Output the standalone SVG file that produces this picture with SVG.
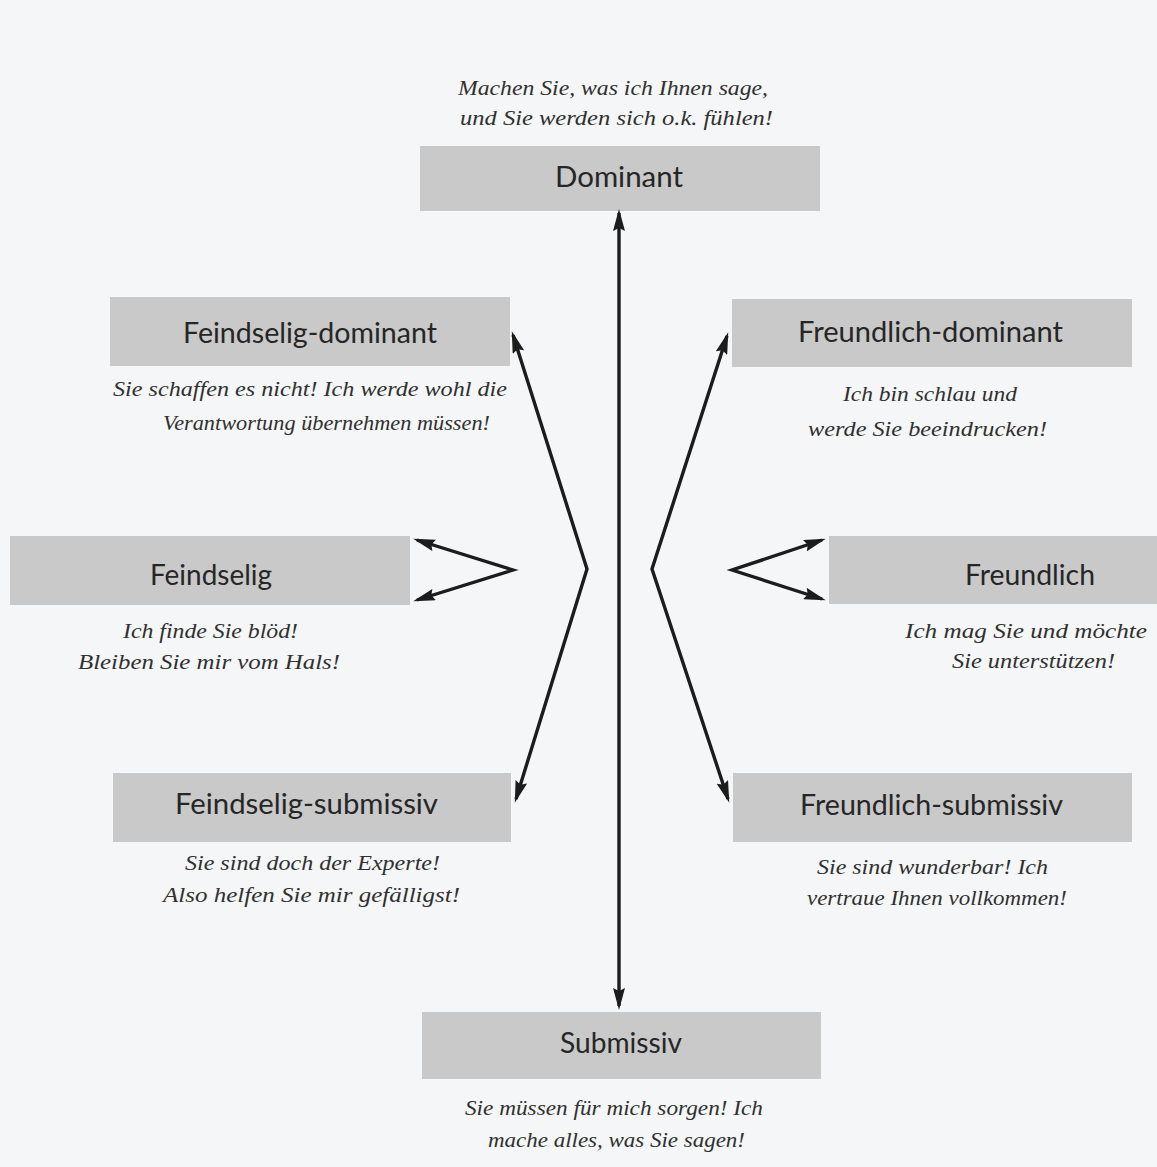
<svg xmlns="http://www.w3.org/2000/svg" width="1157" height="1167" viewBox="0 0 1157 1167">
<style>
.box{fill:#c9c9c9}
.lbl{font-family:Lato,"Liberation Sans",sans-serif;font-size:28px;fill:#262626}
.cap{font-family:"Liberation Serif",serif;font-style:italic;font-size:21px;fill:#303030}
.con{fill:none;stroke:#1c1c1c;stroke-width:3.4;stroke-linejoin:miter}
</style>
<defs>
<marker id="ah" viewBox="0 0 22 12" refX="18" refY="6" markerWidth="22" markerHeight="12" markerUnits="userSpaceOnUse" orient="auto-start-reverse">
<path d="M0,0 L22,6 L0,12 L3,6 z" fill="#1c1c1c"/>
</marker>
</defs>
<rect x="0" y="0" width="1157" height="1167" fill="#f5f6f7"/>

<g id="dominant">
<text class="cap" x="458" y="95" textLength="310" lengthAdjust="spacingAndGlyphs">Machen Sie, was ich Ihnen sage,</text>
<text class="cap" x="460" y="125" textLength="313" lengthAdjust="spacingAndGlyphs">und Sie werden sich o.k. fühlen!</text>
<rect class="box" x="420" y="146" width="400" height="65"/>
<text class="lbl" x="555" y="187" textLength="128" lengthAdjust="spacingAndGlyphs">Dominant</text>
</g>

<g id="feindselig-dominant">
<rect class="box" x="110" y="297" width="400" height="69"/>
<text class="lbl" x="183" y="343" textLength="254" lengthAdjust="spacingAndGlyphs">Feindselig-dominant</text>
<text class="cap" x="113" y="396" textLength="394" lengthAdjust="spacingAndGlyphs">Sie schaffen es nicht! Ich werde wohl die</text>
<text class="cap" x="163" y="430" textLength="327" lengthAdjust="spacingAndGlyphs">Verantwortung übernehmen müssen!</text>
</g>

<g id="freundlich-dominant">
<rect class="box" x="732" y="299" width="400" height="68"/>
<text class="lbl" x="798" y="342" textLength="265" lengthAdjust="spacingAndGlyphs">Freundlich-dominant</text>
<text class="cap" x="843" y="401" textLength="174" lengthAdjust="spacingAndGlyphs">Ich bin schlau und</text>
<text class="cap" x="808" y="436" textLength="239" lengthAdjust="spacingAndGlyphs">werde Sie beeindrucken!</text>
</g>

<g id="feindselig">
<rect class="box" x="10" y="536" width="400" height="69"/>
<text class="lbl" x="150" y="585" textLength="122" lengthAdjust="spacingAndGlyphs">Feindselig</text>
<text class="cap" x="123" y="638" textLength="175" lengthAdjust="spacingAndGlyphs">Ich finde Sie blöd!</text>
<text class="cap" x="78" y="669" textLength="262" lengthAdjust="spacingAndGlyphs">Bleiben Sie mir vom Hals!</text>
</g>

<g id="freundlich">
<rect class="box" x="829" y="536" width="400" height="68"/>
<text class="lbl" x="965" y="585" textLength="130" lengthAdjust="spacingAndGlyphs">Freundlich</text>
<text class="cap" x="905" y="638" textLength="242" lengthAdjust="spacingAndGlyphs">Ich mag Sie und möchte</text>
<text class="cap" x="952" y="668" textLength="163" lengthAdjust="spacingAndGlyphs">Sie unterstützen!</text>
</g>

<g id="feindselig-submissiv">
<rect class="box" x="113" y="773" width="398" height="69"/>
<text class="lbl" x="175" y="814" textLength="263" lengthAdjust="spacingAndGlyphs">Feindselig-submissiv</text>
<text class="cap" x="185" y="870" textLength="255" lengthAdjust="spacingAndGlyphs">Sie sind doch der Experte!</text>
<text class="cap" x="163" y="902" textLength="297" lengthAdjust="spacingAndGlyphs">Also helfen Sie mir gefälligst!</text>
</g>

<g id="freundlich-submissiv">
<rect class="box" x="733" y="773" width="399" height="69"/>
<text class="lbl" x="800" y="815" textLength="263" lengthAdjust="spacingAndGlyphs">Freundlich-submissiv</text>
<text class="cap" x="817" y="874" textLength="231" lengthAdjust="spacingAndGlyphs">Sie sind wunderbar! Ich</text>
<text class="cap" x="807" y="905" textLength="260" lengthAdjust="spacingAndGlyphs">vertraue Ihnen vollkommen!</text>
</g>

<g id="submissiv">
<rect class="box" x="422" y="1012" width="399" height="67"/>
<text class="lbl" x="560" y="1053" textLength="122" lengthAdjust="spacingAndGlyphs">Submissiv</text>
<text class="cap" x="465" y="1115" textLength="298" lengthAdjust="spacingAndGlyphs">Sie müssen für mich sorgen! Ich</text>
<text class="cap" x="488" y="1147" textLength="257" lengthAdjust="spacingAndGlyphs">mache alles, was Sie sagen!</text>
</g>

<g id="connectors">
<path class="con" d="M619,213 L619,1006" marker-start="url(#ah)" marker-end="url(#ah)"/>
<path class="con" d="M513,335 L587,569 L516,799" marker-start="url(#ah)" marker-end="url(#ah)"/>
<path class="con" d="M727,336 L652,569 L728,799" marker-start="url(#ah)" marker-end="url(#ah)"/>
<path class="con" d="M417,540 L513,570 L417,600" marker-start="url(#ah)" marker-end="url(#ah)"/>
<path class="con" d="M822,540 L732,570 L822,599" marker-start="url(#ah)" marker-end="url(#ah)"/>
</g>
</svg>
